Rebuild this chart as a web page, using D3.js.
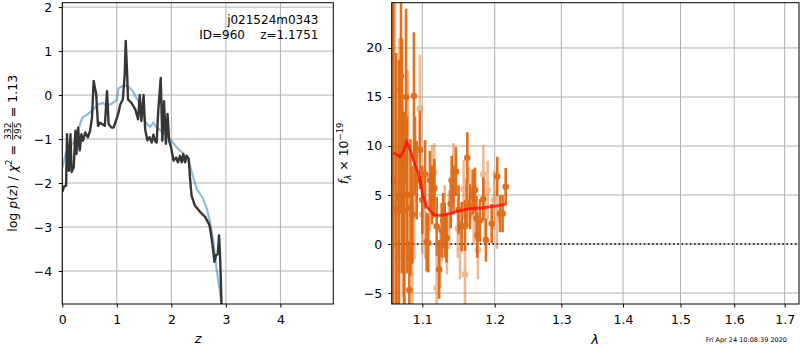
<!DOCTYPE html>
<html>
<head>
<meta charset="utf-8">
<script src="https://cdn.jsdelivr.net/npm/d3@7"></script>
<style>
  body { margin: 0; background: #fff; }
  svg { font-family: "DejaVu Sans", sans-serif; }
</style>
</head>
<body>
<svg id="chart" width="800" height="350"></svg>
<script>
// ---- data ----
// left panel: log p(z) (dark line) and template fit (light blue)
const pzZ = [0,0.03,0.07,0.086,0.12,0.15,0.17,0.21,0.24,0.26,0.29,0.32,0.35,0.38,0.42,0.47,0.51,0.545,0.575,0.61,0.62,0.655,0.69,0.73,0.78,0.82,0.85,0.9,0.94,0.99,1.02,1.065,1.11,1.145,1.163,1.19,1.205,1.27,1.34,1.39,1.42,1.45,1.49,1.52,1.56,1.6,1.64,1.67,1.7,1.73,1.76,1.805,1.835,1.865,1.9,1.93,1.96,1.995,2.04,2.09,2.12,2.16,2.19,2.22,2.25,2.28,2.32,2.34,2.37,2.43,2.53,2.62,2.7,2.74,2.77,2.79,2.82,2.85,2.875,2.89,2.905,2.92,2.95]
const pzLog = [-2.2,-2.08,-2.06,-0.89,-1.72,-0.89,-1.75,-1.64,-0.81,-1.34,-0.74,-1.26,-0.89,-1.04,-0.85,-0.96,-0.81,-0.51,0.32,0.09,0.05,-0.7,-0.63,-0.66,-0.7,0.09,-0.66,-0.74,-0.74,-0.56,-0.45,-0.21,-0.1,0.47,1.23,0.47,-0.1,-0.18,-0.33,-0.55,0.0,-0.59,0.0,-0.78,-1.03,-0.96,-1.08,-0.9,-1.04,-1.08,-0.36,0.39,-1.04,-0.14,-1.11,-0.43,-1.04,-1.19,-1.49,-1.42,-1.53,-1.38,-1.53,-1.34,-1.53,-1.38,-1.45,-1.85,-2.28,-2.51,-2.66,-2.77,-2.96,-3.26,-3.56,-3.79,-3.64,-3.62,-3.19,-3.56,-4.1,-4.8,-5.5]

const fitZ = [0,0.02,0.07,0.13,0.2,0.26,0.29,0.34,0.38,0.45,0.5,0.59,0.65,0.69,0.75,0.81,0.9,0.96,1.0,1.03,1.1,1.16,1.22,1.3,1.35,1.39,1.43,1.48,1.52,1.57,1.61,1.67,1.72,1.82,1.92,2.0,2.1,2.19,2.28,2.34,2.4,2.47,2.53,2.58,2.65,2.71,2.77,2.83,2.89,2.95,3.0]
const fitLog = [-1.65,-1.55,-1.3,-1.2,-1.08,-0.95,-0.81,-0.6,-0.5,-0.45,-0.4,-0.3,-0.22,-0.2,-0.18,-0.25,-0.2,-0.15,-0.1,0.15,0.2,0.22,0.18,0.08,-0.05,-0.12,-0.28,-0.4,-0.6,-0.68,-0.72,-0.63,-0.72,-0.82,-0.92,-1.04,-1.19,-1.3,-1.45,-1.6,-1.87,-2.15,-2.25,-2.35,-2.58,-2.89,-3.34,-3.95,-4.47,-5.0,-5.5]

// right panel: spectrum points (two grism orders), errors, model
const lamA  = [1.0623,1.066,1.0696,1.0722,1.0735,1.0761,1.0787,1.08,1.083,1.0845,1.0869,1.089,1.0904,1.0926,1.0969,1.1,1.1036,1.1058,1.1079,1.1101,1.113,1.116,1.1192,1.1225,1.1259,1.128,1.13,1.1325,1.1382,1.1395,1.142,1.1454,1.149,1.1533,1.1579,1.1602,1.1611,1.165,1.1686,1.1719,1.174,1.1751,1.1789,1.1836,1.1874,1.1956,1.2036,1.2076,1.2114,1.2159]
const fluxA = [6.4,3.5,4.8,17.1,9.0,3.5,15.0,5.0,-4.7,3.7,3.0,15.1,9.0,6.5,9.6,4.5,7.1,0.2,0.1,6.5,5.0,5.7,1.8,-2.6,1.4,2.4,1.4,0.6,4.1,6.5,5.5,7.4,3.5,1.8,1.8,4.2,8.8,3.8,5.3,5.5,2.6,0.9,2.4,4.6,0.4,2.1,6.9,3.1,3.1,5.85]
const errA  = [22,16,14,14,12,10,9,8,5,7,5,6.5,4,4,4,3.5,3.5,3,3,3,3,3,3,3,2.8,2.8,2.8,2.5,2.5,2.5,2.5,2.5,2.5,2.5,2.5,2.5,2.6,2.3,2.3,2.3,2.3,2.3,2.2,2.2,2.2,2,2,1.9,1.9,1.9]

const lamB  = [1.061,1.0645,1.068,1.07,1.0745,1.077,1.081,1.0869,1.0895,1.0969,1.1,1.1036,1.1101,1.113,1.116,1.1192,1.124,1.13,1.133,1.136,1.142,1.148,1.151,1.156,1.1579,1.164,1.17,1.176,1.1836,1.186,1.19,1.199,1.203]
const fluxB = [5.5,15.7,-1.3,9.0,4.6,-1.3,8.7,-1.3,4.5,13.8,3.0,2.0,4.3,6.6,7.3,-4.5,-1.5,3.0,-0.1,2.5,7.3,1.6,-0.6,5.6,-3.1,4.8,3.0,-0.6,7.1,3.6,5.5,4.5,2.5]
const errB  = [20,16,14,12,10,9,9,8,6,5.5,4,3.5,3,3.5,3,3.5,3,3,3,3,3,3,3,3,3,3,3,3,3,3,3,3,3]

const modelLam  = [1.062,1.067,1.071,1.075,1.0796,1.084,1.09,1.095,1.097,1.1005,1.106,1.115,1.124,1.137,1.151,1.165,1.184,1.203,1.215]
const modelFlux = [9.3,9.1,8.9,9.4,10.4,9.6,8.1,7.2,6.5,5.0,3.8,3.0,2.9,3.1,3.4,3.6,3.7,3.9,4.05]

const zTicks = [0, 1, 2, 3, 4]
const lnpTicks = [-4, -3, -2, -1, 0, 1, 2]
const lamTicks = [1.1, 1.2, 1.3, 1.4, 1.5, 1.6, 1.7]
const fluxTicks = [-5, 0, 5, 10, 15, 20]

// ---- layout ----
const svg = d3.select("#chart")
const left = {x0: 62.3, x1: 333.3, y0: 2.7, y1: 304}
const right = {x0: 391.7, x1: 799, y0: 2.7, y1: 304}
const gridColor = "#b0b0b0"
const orange = "#dc6510"

const xL = d3.scaleLinear().domain([0, 4.97]).range([left.x0, left.x1])
const yL = d3.scaleLinear().domain([-4.75, 2.1]).range([left.y1, left.y0])
const xR = d3.scaleLog().domain([1.0603, 1.7295]).range([right.x0, right.x1])
const yR = d3.scaleLinear().domain([-6.12, 24.62]).range([right.y1, right.y0])

const defs = svg.append("defs")
;[["clipL", left], ["clipR", right]].forEach(([id, b]) => {
  defs.append("clipPath").attr("id", id)
    .append("rect")
      .attr("x", b.x0).attr("y", b.y0)
      .attr("width", b.x1 - b.x0).attr("height", b.y1 - b.y0)
})

function grid(box, xs, ys, xTicks, yTicks) {
  const g = svg.append("g")
  g.selectAll("line.gx").data(xTicks).join("line")
    .attr("x1", d => xs(d)).attr("x2", d => xs(d))
    .attr("y1", box.y0).attr("y2", box.y1)
    .attr("stroke", gridColor).attr("stroke-width", 1)
  g.selectAll("line.gy").data(yTicks).join("line")
    .attr("x1", box.x0).attr("x2", box.x1)
    .attr("y1", d => ys(d)).attr("y2", d => ys(d))
    .attr("stroke", gridColor).attr("stroke-width", 1)
}
grid(left, xL, yL, zTicks, lnpTicks)
grid(right, xR, yR, lamTicks, fluxTicks)

// ---- left panel lines ----
const leftPlot = svg.append("g").attr("clip-path", "url(#clipL)")
const lineL = d3.line().x(d => xL(d[0])).y(d => yL(d[1]))

leftPlot.append("path")
  .datum(d3.zip(fitZ, fitLog))
  .attr("d", lineL)
  .attr("fill", "none")
  .attr("stroke", "#1f77b4").attr("stroke-opacity", 0.5)
  .attr("stroke-width", 2.2)

leftPlot.append("path")
  .datum(d3.zip(pzZ, pzLog))
  .attr("d", lineL)
  .attr("fill", "none")
  .attr("stroke", "#363636")
  .attr("stroke-width", 2.4)
  .attr("stroke-linejoin", "round")

// ---- right panel ----
const rightPlot = svg.append("g").attr("clip-path", "url(#clipR)")

rightPlot.append("line")
  .attr("x1", right.x0).attr("x2", right.x1)
  .attr("y1", yR(0)).attr("y2", yR(0))
  .attr("stroke", "#000").attr("stroke-width", 1.6)
  .attr("stroke-dasharray", "1.6,2.6")

function drawPoints(lam, flux, err, opacity) {
  const pts = d3.zip(lam, flux, err)
  const g = rightPlot.append("g").attr("opacity", opacity)
  g.selectAll("line").data(pts).join("line")
    .attr("x1", d => xR(d[0])).attr("x2", d => xR(d[0]))
    .attr("y1", d => yR(d[1] - d[2])).attr("y2", d => yR(d[1] + d[2]))
    .attr("stroke", orange).attr("stroke-width", 2.6)
  g.selectAll("circle").data(pts).join("circle")
    .attr("cx", d => xR(d[0])).attr("cy", d => yR(d[1]))
    .attr("r", 3.3)
    .attr("fill", orange)
}
drawPoints(lamB, fluxB, errB, 0.45)
drawPoints(lamA, fluxA, errA, 0.92)

rightPlot.append("path")
  .datum(d3.zip(modelLam, modelFlux))
  .attr("d", d3.line().x(d => xR(d[0])).y(d => yR(d[1])))
  .attr("fill", "none")
  .attr("stroke", "red").attr("stroke-opacity", 0.7)
  .attr("stroke-width", 2.8)

// ---- frames and axes ----
;[left, right].forEach(b => {
  svg.append("rect")
    .attr("x", b.x0).attr("y", b.y0)
    .attr("width", b.x1 - b.x0).attr("height", b.y1 - b.y0)
    .attr("fill", "none").attr("stroke", "#000").attr("stroke-width", 1)
})

function styleAxis(g) {
  g.select(".domain").remove()
  g.selectAll(".tick line").attr("stroke", "#000").attr("stroke-width", 1)
  g.selectAll(".tick text").attr("fill", "#000").attr("font-size", 12.5)
    .attr("font-family", "DejaVu Sans")
}
const fmtInt = d => d3.format("d")(d).replace("-", "\u2212")

svg.append("g").attr("transform", `translate(0,${left.y1})`)
  .call(d3.axisBottom(xL).tickValues(zTicks).tickSize(3.5).tickPadding(7.5).tickFormat(fmtInt))
  .call(styleAxis)
svg.append("g").attr("transform", `translate(${left.x0},0)`)
  .call(d3.axisLeft(yL).tickValues(lnpTicks).tickSize(3.5).tickPadding(6.5).tickFormat(fmtInt))
  .call(styleAxis)
svg.append("g").attr("transform", `translate(0,${right.y1})`)
  .call(d3.axisBottom(xR).tickValues(lamTicks).tickSize(3.5).tickPadding(7.5).tickFormat(d3.format(".1f")))
  .call(styleAxis)
svg.append("g").attr("transform", `translate(${right.x0},0)`)
  .call(d3.axisLeft(yR).tickValues(fluxTicks).tickSize(3.5).tickPadding(6).tickFormat(fmtInt))
  .call(styleAxis)

// ---- labels ----
svg.append("text")
  .attr("x", xL(2.49)).attr("y", 343)
  .attr("text-anchor", "middle").attr("font-size", 13)
  .attr("font-style", "italic").text("z")
svg.append("text")
  .attr("x", 595).attr("y", 344)
  .attr("text-anchor", "middle").attr("font-size", 13)
  .attr("font-style", "italic").text("λ")

const note = svg.append("g").attr("font-size", 12).attr("text-anchor", "end")
note.append("text").attr("x", 318.5).attr("y", 24).text("j021524m0343")
note.append("text").attr("x", 318.5).attr("y", 39)
  .style("white-space", "pre").text("ID=960    z=1.1751")

svg.append("text")
  .attr("x", 787).attr("y", 341.5)
  .attr("text-anchor", "end").attr("font-size", 6.5)
  .text("Fri Apr 24 10:08:39 2020")

// left y label with stacked fraction
const yLab = svg.append("g")
  .attr("transform", `translate(17,${(left.y0 + left.y1) / 2}) rotate(-90)`)
  .attr("font-size", 12.5)
const part1 = yLab.append("text").attr("x", 0).attr("y", 0)
part1.append("tspan").text("log ")
part1.append("tspan").attr("font-style", "italic").text("p")
part1.append("tspan").text("(")
part1.append("tspan").attr("font-style", "italic").text("z")
part1.append("tspan").text(") / ")
part1.append("tspan").attr("font-style", "italic").text("χ")
part1.append("tspan").attr("font-size", 8.5).attr("dy", -5).text("2")
part1.append("tspan").attr("dy", 5).style("white-space", "pre").text(" = ")
const w1 = part1.node().getComputedTextLength()
const fracW = 18
const frac = yLab.append("g").attr("font-size", 9)
  .attr("text-anchor", "middle")
frac.append("text").attr("x", fracW / 2).attr("y", -6).text("332")
frac.append("line").attr("x1", 0).attr("x2", fracW).attr("y1", -4.3).attr("y2", -4.3)
  .attr("stroke", "#000").attr("stroke-width", 0.8)
frac.append("text").attr("x", fracW / 2).attr("y", 4).text("295")
const part2 = yLab.append("text").attr("x", w1 + fracW + 2).attr("y", 0)
  .style("white-space", "pre").text(" = 1.13")
const totalW = w1 + fracW + 2 + part2.node().getComputedTextLength()
;[part1, part2].forEach(t => t.attr("transform", `translate(${-totalW / 2},0)`))
frac.attr("transform", `translate(${w1 + 1 - totalW / 2},0)`)

// right y label
const rLab = svg.append("text")
  .attr("transform", `translate(348,${(right.y0 + right.y1) / 2}) rotate(-90)`)
  .attr("text-anchor", "middle").attr("font-size", 12.5)
rLab.append("tspan").attr("font-style", "italic").text("f")
rLab.append("tspan").attr("font-style", "italic").attr("font-size", 8.5).attr("dy", 3).text("λ")
rLab.append("tspan").attr("dy", -3).style("white-space", "pre").text(" × 10")
rLab.append("tspan").attr("font-size", 8.5).attr("dy", -5).text("\u221219")
</script>
</body>
</html>
